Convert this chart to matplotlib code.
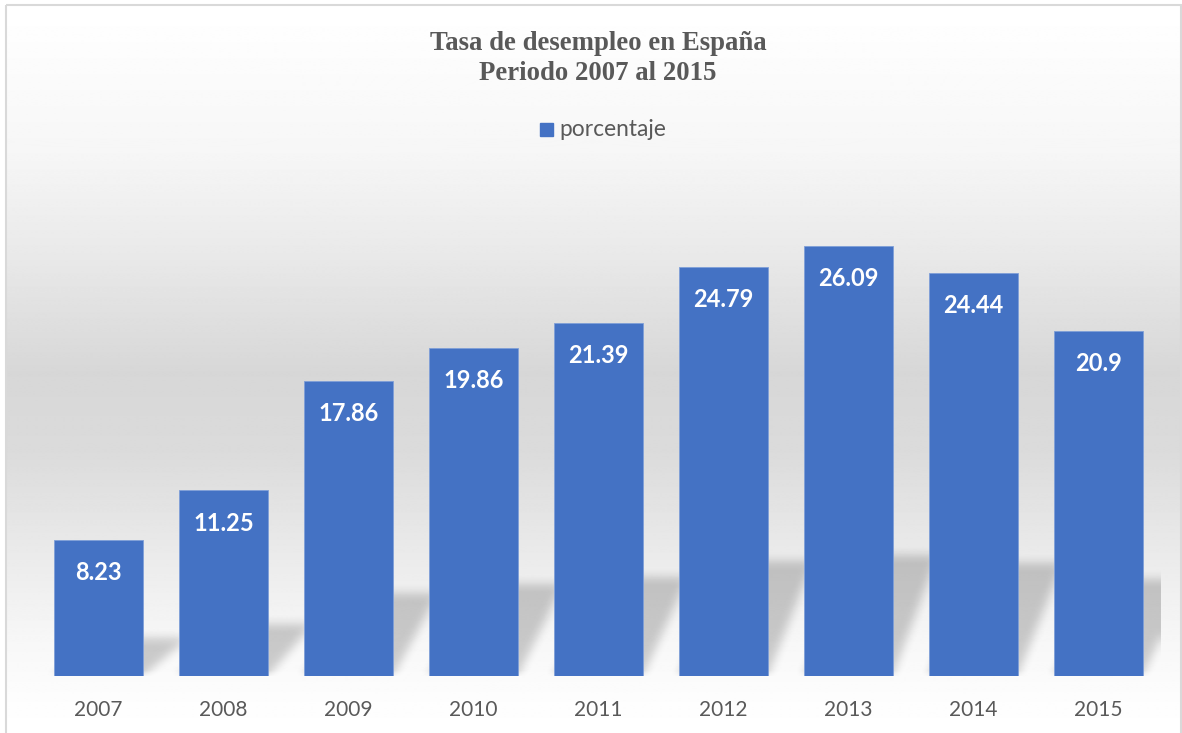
import numpy as np
import matplotlib
matplotlib.use("Agg")
import matplotlib.pyplot as plt
from matplotlib.patches import Rectangle

years = ["2007", "2008", "2009", "2010", "2011", "2012", "2013", "2014", "2015"]
porcentaje = [8.23, 11.25, 17.86, 19.86, 21.39, 24.79, 26.09, 24.44, 20.9]
etiquetas = ["8.23", "11.25", "17.86", "19.86", "21.39", "24.79", "26.09", "24.44", "20.9"]

azul = "#4472C4"
gris = "#595959"
W, H = 1182, 733

fig = plt.figure(figsize=(W / 100, H / 100), dpi=100)

# fondo con degradado y borde
bg = fig.add_axes([0, 0, 1, 1], zorder=-10)
bg.set_xlim(0, W)
bg.set_ylim(H, 0)
bg.axis("off")
py = np.arange(H)
niv = np.interp(py, [5, 150, 250, 370, 450, 550, 640, 700, 733],
                [255, 246, 233, 215, 219, 234, 247, 253, 255]) / 255.0
grad = np.repeat(niv[:, None], 2, axis=1)
bg.imshow(grad, cmap="gray", vmin=0, vmax=1, extent=(6, W, H, 5), aspect="auto",
          interpolation="bilinear")
bg.add_patch(Rectangle((6, 5), W - 7, H, fill=False, edgecolor="#d9d9d9", lw=1.5))

ax = fig.add_axes([36 / W, 57 / H, 1125 / W, 495 / H])
ax.set_facecolor("none")
x = np.arange(len(years))
ancho = 0.712
ax.set_xlim(-0.5, len(years) - 0.5)
ax.set_ylim(0, 30)

# sombra en perspectiva (difuminada)
nx, ny = 1125, 495
gx = np.linspace(-0.5, len(years) - 0.5, nx)
gy = np.linspace(0, 30, ny)
X, Y = np.meshgrid(gx, gy)
mask = np.zeros((ny, nx))
for i, h in enumerate(porcentaje):
    hs = 0.28 * h
    t = np.clip(Y / hs, 0, 1)
    izq = i - ancho / 2 + 0.36 * t
    der = i + ancho / 2 + 0.36 * t
    mask[(Y <= hs) & (X >= izq) & (X <= der)] = 1.0


def blur(a, r, axis):
    c = np.cumsum(np.pad(a, [(r + 1, r) if k == axis else (0, 0) for k in range(2)], mode="edge"), axis=axis)
    if axis == 0:
        return (c[2 * r + 1:] - c[:-2 * r - 1]) / (2 * r + 1)
    return (c[:, 2 * r + 1:] - c[:, :-2 * r - 1]) / (2 * r + 1)


for _ in range(2):
    mask = blur(mask, 5, 0)
    mask = blur(mask, 5, 1)
mask[gy < 0.35, :] *= np.linspace(0.3, 1, (gy < 0.35).sum())[:, None]
sombra = np.zeros((ny, nx, 4))
sombra[..., 3] = 0.19 * mask
ax.imshow(sombra, origin="lower", extent=(-0.5, len(years) - 0.5, 0, 30),
          aspect="auto", interpolation="bilinear", zorder=1)

barras = ax.bar(x, porcentaje, width=ancho, color=azul, zorder=2,
                edgecolor="#7f9fd8", linewidth=0.6)
for b, txt in zip(barras, etiquetas):
    ax.annotate(txt, (b.get_x() + b.get_width() / 2, b.get_height()),
                xytext=(0, -23.5), textcoords="offset points", ha="center", va="center",
                color="white", fontsize=17, fontweight="bold", family="Lato", zorder=3)

ax.set_xticks(x)
ax.set_xticklabels(years, family="Lato", fontsize=15, color=gris)
ax.tick_params(axis="x", length=0, pad=17)
ax.set_yticks([])
for s in ax.spines.values():
    s.set_visible(False)

fig.text(598 / W, 1 - 43 / H, "Tasa de desempleo en España", ha="center", va="center",
         family="Liberation Serif", fontweight="bold", fontsize=19.3, color=gris)
fig.text(598 / W, 1 - 73 / H, "Periodo 2007 al 2015", ha="center", va="center",
         family="Liberation Serif", fontweight="bold", fontsize=19.3, color=gris)

# leyenda
bg.add_patch(Rectangle((540, 123), 13, 13, color=azul))
bg.text(559, 129.5, "porcentaje", ha="left", va="center", family="Lato",
        fontsize=16.4, color=gris)

fig.savefig("out.png", dpi=100)
